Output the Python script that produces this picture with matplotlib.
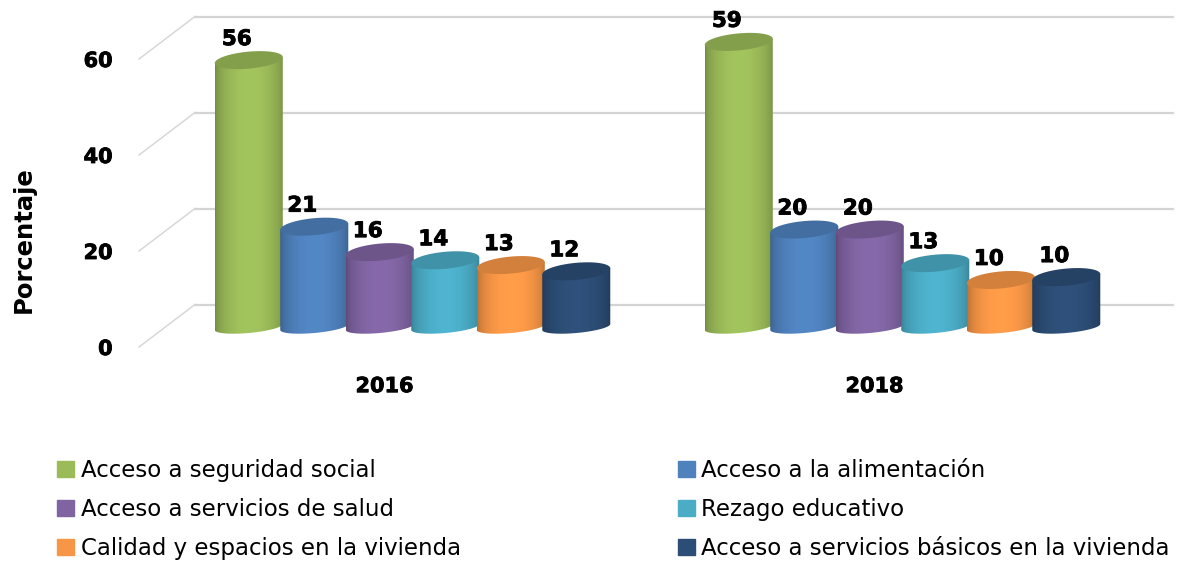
import numpy as np
import matplotlib
matplotlib.use("Agg")
import matplotlib.pyplot as plt
import matplotlib.patheffects as pe
from matplotlib.colors import to_rgb
from matplotlib.patches import Patch, Polygon

# Data
years = ["2016", "2018"]
series = ["Acceso a seguridad social", "Acceso a la alimentación",
          "Acceso a servicios de salud", "Rezago educativo",
          "Calidad y espacios en la vivienda",
          "Acceso a servicios básicos en la vivienda"]
values_2016 = [55.6, 20.9, 15.6, 13.9, 12.9, 11.6]
values_2018 = [59.4, 20.3, 20.3, 13.3, 9.8, 10.4]
y_ticks = [0, 20, 40, 60]
colors = ["#9BBB59", "#4F81BD", "#8064A2", "#4BACC6", "#F79646", "#2C4D75"]

W, H = 1178, 561
PX_X = 490.0   # pixels per group
PX_Y = 4.8     # pixels per percent
bar_step = 65.5 / PX_X
half_w = 34 / PX_X
lift_bar = 20 / PX_Y     # bars stand in the middle of the floor
lift_back = 42.5 / PX_Y  # back wall
grid_dx = 56 / PX_X
t = np.linspace(0, 2 * np.pi, 80)
heavy = [pe.withStroke(linewidth=0.6, foreground="black")]

fig = plt.figure(figsize=(W / 100, H / 100), dpi=100)
ax = fig.add_axes([139 / W, 1 - 347 / H, (1173 - 139) / W, 347 / H])


def draw_cylinder(xc, value, color):
    base = lift_bar
    top = lift_bar + value
    rgb = np.array(to_rgb(color))
    # side of the cylinder, shaded from edge to edge
    u = np.linspace(0, 1, 120)
    shade = 0.72 + 0.33 * np.sin(np.pi * u) ** 0.5
    img = np.clip(rgb[None, None, :] * shade[None, :, None], 0, 1)
    lower = np.linspace(np.pi, 2 * np.pi, 40)
    side_x = np.r_[xc - half_w, xc + half_w * np.cos(lower), xc + half_w]
    side_y = np.r_[top - 3 / PX_Y,
                   base + (3 * np.cos(lower) + 6 * np.sin(lower)) / PX_Y,
                   top + 3 / PX_Y]
    side = Polygon(np.c_[side_x, side_y], closed=True, fc="none", ec="none",
                   transform=ax.transData)
    ax.add_patch(side)
    im = ax.imshow(img, extent=[xc - half_w, xc + half_w, base - 3, top + 3],
                   aspect="auto", interpolation="bilinear", zorder=3)
    im.set_clip_path(side)
    # top of the cylinder
    top_x = xc + half_w * np.cos(t)
    top_y = top + (3 * np.cos(t) + 8.5 * np.sin(t)) / PX_Y
    ax.fill(top_x, top_y, color=rgb * 0.85, lw=0, zorder=3, clip_on=False)


# Walls
for v in y_ticks:
    ax.plot([-0.5582, -0.5582 + grid_dx], [v, v + lift_back], color="#d4d4d4",
            lw=1.0, zorder=1, clip_on=False)
    ax.plot([-0.5582 + grid_dx, 1.552], [v + lift_back, v + lift_back],
            color="#d4d4d4", lw=1.6, zorder=1, clip_on=False)

# Bars
for g, vals in enumerate([values_2016, values_2018]):
    for i, v in enumerate(vals):
        xc = g + (i - 2.5) * bar_step
        draw_cylinder(xc, v, colors[i])
        ax.text(xc - 12 / PX_X, lift_bar + v + 21 / PX_Y, str(round(v)),
                ha="center", va="center", fontsize=15.5, fontweight="bold",
                color="black", zorder=5, path_effects=heavy)

ax.set_xlim(-0.5582, 1.552)
ax.set_ylim(0, 347 / PX_Y)
ax.set_yticks(y_ticks)
ax.set_xticks([g - 28 / PX_X for g in range(len(years))])
ax.set_xticklabels(years, fontsize=15, fontweight="bold", path_effects=heavy)
ax.set_yticklabels([str(v) for v in y_ticks], fontsize=15, fontweight="bold",
                   path_effects=heavy)
ax.tick_params(axis="y", length=0, pad=19)
ax.tick_params(axis="x", length=0, pad=21)
ax.patch.set_visible(False)
for s in ax.spines.values():
    s.set_visible(False)
ax.set_ylabel("Porcentaje", fontsize=17.5, fontweight="bold")
ax.yaxis.set_label_coords((36 - 139) / (1173 - 139), (347 - 240) / 347)

# Legend (fills by column)
order = [0, 2, 4, 1, 3, 5]
handles = [Patch(color=colors[i], label=series[i]) for i in order]
fs = 16.5
fig.legend(handles=handles, ncol=2, loc="upper left",
           bbox_to_anchor=(57 / W, 1 - 459 / H), bbox_transform=fig.transFigure,
           frameon=False, fontsize=fs, borderpad=0, borderaxespad=0,
           handlelength=12.2 / fs, handleheight=12.2 / fs, handletextpad=5 / fs,
           labelspacing=0.7, columnspacing=9.45)

fig.savefig("out.png", dpi=100)
